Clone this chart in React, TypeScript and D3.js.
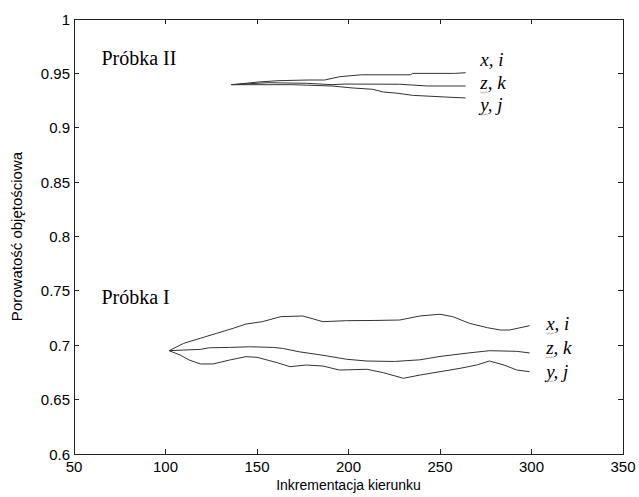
import * as d3 from 'd3';
import React, { useEffect, useRef } from 'react';

// Próbka I
const xI = [102, 110, 119, 128, 137, 144, 153, 163, 175, 186, 199, 214, 228, 239, 250, 257, 266, 276, 283, 288, 299];
const xiI = [0.695, 0.7018, 0.7064, 0.711, 0.7156, 0.7195, 0.7217, 0.7263, 0.7269, 0.7217, 0.7226, 0.7228, 0.7232, 0.7269, 0.7285, 0.7263, 0.7202, 0.7161, 0.714, 0.714, 0.718];
const zkIx = [102, 110, 119, 124, 135, 146, 159, 164, 173, 186, 199, 210, 225, 239, 250, 265, 277, 292, 299];
const zkI = [0.695, 0.6956, 0.6962, 0.6977, 0.698, 0.6986, 0.698, 0.6971, 0.694, 0.6908, 0.6871, 0.6855, 0.6851, 0.6866, 0.6897, 0.6928, 0.695, 0.6944, 0.6929];
const yjIx = [102, 108, 113, 119, 126, 135, 144, 150, 161, 168, 177, 186, 195, 210, 219, 230, 239, 250, 261, 270, 277, 285, 292, 299];
const yjI = [0.695, 0.691, 0.6864, 0.6828, 0.6828, 0.6864, 0.6895, 0.6889, 0.684, 0.6803, 0.6818, 0.6809, 0.6772, 0.6779, 0.6748, 0.6696, 0.6726, 0.6757, 0.6788, 0.6818, 0.6855, 0.6818, 0.6772, 0.6757];

// Próbka II
const xiIIx = [136, 144, 151, 162, 178, 187, 195, 207, 234, 235, 258, 264];
const xiII = [0.9396, 0.9409, 0.9421, 0.9433, 0.9439, 0.9439, 0.9469, 0.9487, 0.9487, 0.95, 0.95, 0.9506];
const zkIIx = [136, 156, 177, 191, 198, 228, 243, 264];
const zkII = [0.9396, 0.9414, 0.9409, 0.9396, 0.9402, 0.94, 0.9384, 0.9384];
const yjIIx = [136, 169, 191, 202, 213, 219, 227, 235, 256, 264];
const yjII = [0.9396, 0.9396, 0.9384, 0.9366, 0.9354, 0.9329, 0.9317, 0.9298, 0.928, 0.9274];

const xTicks = [50, 100, 150, 200, 250, 300, 350];
const yTicks = [0.6, 0.65, 0.7, 0.75, 0.8, 0.85, 0.9, 0.95, 1];

const seriesNames = ['x, i', 'z, k', 'y, j'];

const SANS = '"Liberation Sans", Arial, sans-serif';
const SERIF = '"Liberation Serif", "Times New Roman", serif';

export default function App() {
  const svgRef = useRef<SVGSVGElement>(null);
  const width = 639;
  const height = 497;

  useEffect(() => {
    const svg = d3.select(svgRef.current);
    svg.selectAll('*').remove();

    const left = 74;
    const right = 623;
    const top = 19;
    const bottom = 454;

    const x = d3.scaleLinear().domain([50, 350]).range([left, right]);
    const y = d3.scaleLinear().domain([0.6, 1]).range([bottom, top]);

    const ink = '#222';
    const tickLen = 5;

    // frame
    svg
      .append('rect')
      .attr('x', left)
      .attr('y', top)
      .attr('width', right - left)
      .attr('height', bottom - top)
      .attr('fill', 'none')
      .attr('stroke', ink)
      .attr('stroke-width', 1)
      .attr('shape-rendering', 'crispEdges');

    // ticks on all four sides, pointing inwards
    const ticks = svg.append('g').attr('stroke', ink).attr('shape-rendering', 'crispEdges');
    xTicks.forEach((t) => {
      ticks.append('line').attr('x1', x(t)).attr('x2', x(t)).attr('y1', bottom).attr('y2', bottom - tickLen);
      ticks.append('line').attr('x1', x(t)).attr('x2', x(t)).attr('y1', top).attr('y2', top + tickLen);
    });
    yTicks.forEach((t) => {
      ticks.append('line').attr('x1', left).attr('x2', left + tickLen).attr('y1', y(t)).attr('y2', y(t));
      ticks.append('line').attr('x1', right).attr('x2', right - tickLen).attr('y1', y(t)).attr('y2', y(t));
    });

    svg
      .append('g')
      .selectAll('text')
      .data(xTicks)
      .enter()
      .append('text')
      .attr('x', (d) => x(d))
      .attr('y', bottom + 18)
      .attr('text-anchor', 'middle')
      .attr('font-family', SANS)
      .attr('font-size', 15)
      .attr('fill', '#000')
      .text((d) => String(d));

    svg
      .append('g')
      .selectAll('text')
      .data(yTicks)
      .enter()
      .append('text')
      .attr('x', left - 4)
      .attr('y', (d) => y(d) + 5.5)
      .attr('text-anchor', 'end')
      .attr('font-family', SANS)
      .attr('font-size', 15)
      .attr('fill', '#000')
      .text((d) => String(d));

    svg
      .append('text')
      .attr('x', (left + right) / 2)
      .attr('y', 490)
      .attr('text-anchor', 'middle')
      .attr('font-family', SANS)
      .attr('font-size', 14)
      .attr('fill', '#000')
      .text('Inkrementacja kierunku');

    svg
      .append('text')
      .attr('transform', `translate(22,${(top + bottom) / 2}) rotate(-90)`)
      .attr('text-anchor', 'middle')
      .attr('font-family', SANS)
      .attr('font-size', 15)
      .attr('fill', '#000')
      .text('Porowatość objętościowa');

    // lines
    const line = d3
      .line<[number, number]>()
      .x((d) => x(d[0]))
      .y((d) => y(d[1]));
    const series: [number[], number[]][] = [
      [xI, xiI],
      [zkIx, zkI],
      [yjIx, yjI],
      [xiIIx, xiII],
      [zkIIx, zkII],
      [yjIIx, yjII],
    ];
    series.forEach(([xs, ys]) => {
      svg
        .append('path')
        .datum(xs.map((v, i) => [v, ys[i]] as [number, number]))
        .attr('d', line)
        .attr('fill', 'none')
        .attr('stroke', '#333')
        .attr('stroke-width', 1);
    });

    // sample titles
    svg
      .append('text')
      .attr('x', x(65))
      .attr('y', y(0.9577))
      .attr('font-family', SERIF)
      .attr('font-size', 20)
      .attr('fill', '#000')
      .text('Próbka II');
    svg
      .append('text')
      .attr('x', x(65))
      .attr('y', y(0.7379))
      .attr('font-family', SERIF)
      .attr('font-size', 20)
      .attr('fill', '#000')
      .text('Próbka I');

    // series labels, with the faint spell-check squiggle under the first letter
    const addLabel = (lx: number, ly: number, name: string, wavy: boolean) => {
      const t = svg
        .append('text')
        .attr('x', x(lx))
        .attr('y', y(ly))
        .attr('font-family', SERIF)
        .attr('font-style', 'italic')
        .attr('font-size', 19)
        .attr('fill', '#000');
      const s = t.append('tspan').text(name.charAt(0));
      t.append('tspan').text(name.slice(1));
      if (wavy) {
        const w = (s.node() as SVGTextContentElement).getComputedTextLength();
        const x0 = x(lx);
        const y0 = y(ly) + 3;
        let d = `M${x0},${y0}`;
        for (let k = 1; k * 1.5 <= w + 0.5; k++) {
          d += `L${x0 + k * 1.5},${y0 + (k % 2 ? 1 : 0)}`;
        }
        svg
          .append('path')
          .attr('d', d)
          .attr('fill', 'none')
          .attr('stroke', '#999')
          .attr('stroke-width', 0.8);
      }
    };
    const yII = [0.9568, 0.9356, 0.9154];
    const yIlab = [0.714, 0.692, 0.67];
    seriesNames.forEach((n, i) => {
      addLabel(272, yII[i], n, i > 0);
      addLabel(308, yIlab[i], n, true);
    });
  }, []);

  return (
    <svg
      ref={svgRef}
      width={width}
      height={height}
      style={{ position: 'absolute', left: 0, top: 0, background: '#fff' }}
    />
  );
}
